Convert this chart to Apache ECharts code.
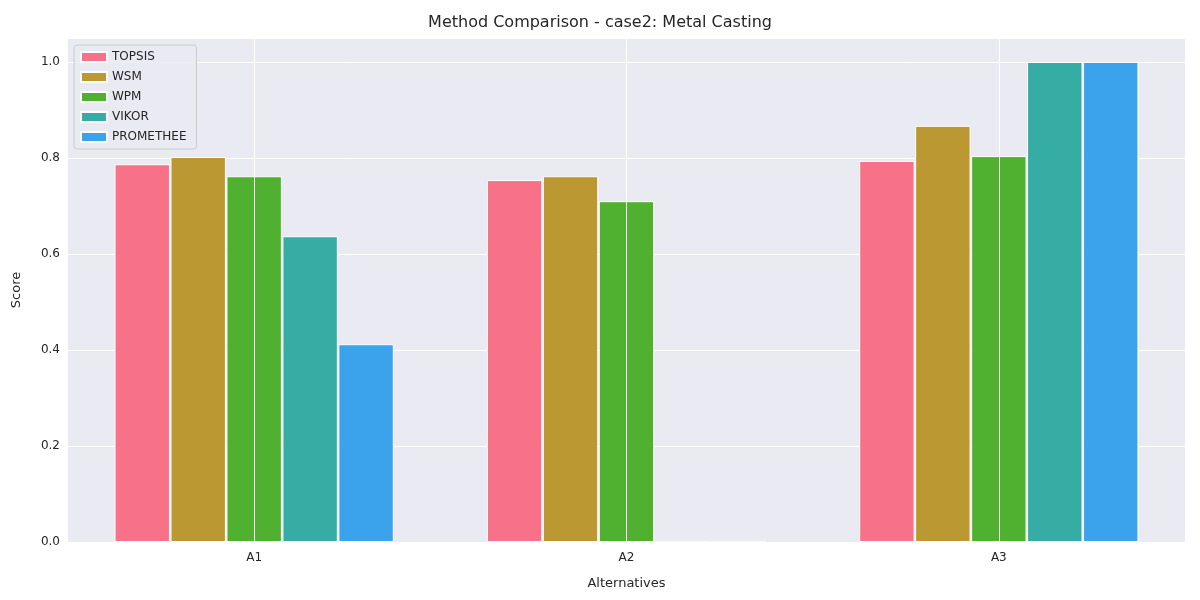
<!DOCTYPE html>
<html>
<head>
<meta charset="utf-8">
<script src="https://cdn.jsdelivr.net/npm/echarts@6/dist/echarts.min.js"></script>
<style>html,body{margin:0;padding:0;background:#fff}#chart{width:1200px;height:600px}</style>
</head>
<body>
<div id="chart"></div>
<script>
// data
var alternatives = ['A1', 'A2', 'A3'];
var methods = ['TOPSIS', 'WSM', 'WPM', 'VIKOR', 'PROMETHEE'];
var topsis = [0.787, 0.754, 0.794];
var wsm = [0.802, 0.762, 0.867];
var wpm = [0.762, 0.710, 0.804];
var vikor = [0.637, 0, 1.0];
var promethee = [0.412, 0, 1.0];
var colors = ['#f77189', '#bb9832', '#50b131', '#36ada4', '#3ba3ec'];

var chart = echarts.init(document.getElementById('chart'));
var values = [topsis, wsm, wpm, vikor, promethee];
var font = 'DejaVu Sans';

var series = methods.map(function (name, i) {
    return {
        name: name,
        type: 'bar',
        z: 3,
        data: values[i],
        barGap: '1%',
        barCategoryGap: '25%',
        itemStyle: {color: colors[i], borderColor: '#fff', borderWidth: 1}
    };
});
// vertical grid lines at category centres, behind the bars
series.push({
    type: 'line',
    z: 1,
    data: [],
    silent: true,
    markLine: {
        silent: true,
        symbol: 'none',
        label: {show: false},
        lineStyle: {color: '#fff', type: 'solid', width: 1},
        data: alternatives.map(function (a) { return {xAxis: a}; })
    }
});

chart.setOption({
    animation: false,
    textStyle: {fontFamily: font},
    title: {
        text: 'Method Comparison - case2: Metal Casting',
        left: 'center', top: 10,
        textStyle: {fontFamily: font, fontSize: 16, fontWeight: 'normal', color: '#262626'}
    },
    legend: {
        data: methods,
        orient: 'vertical',
        left: 74, top: 45,
        itemWidth: 26, itemHeight: 10, itemGap: 8,
        icon: 'rect',
        padding: [6, 10, 6, 6],
        backgroundColor: 'rgba(234,234,242,0.85)',
        borderColor: '#cccccc', borderWidth: 1, borderRadius: 3,
        textStyle: {fontFamily: font, fontSize: 12, color: '#262626'}
    },
    grid: {
        left: 68, right: 15, top: 38, bottom: 58,
        show: true, backgroundColor: '#eaeaf2', borderWidth: 0
    },
    xAxis: {
        type: 'category',
        data: alternatives,
        name: 'Alternatives', nameLocation: 'middle', nameGap: 35,
        nameTextStyle: {fontFamily: font, fontSize: 13, color: '#262626'},
        axisLine: {show: false}, axisTick: {show: false},
        splitLine: {show: false},
        axisLabel: {fontFamily: font, fontSize: 12, color: '#262626', margin: 10}
    },
    yAxis: {
        type: 'value',
        min: 0, max: 1.05, interval: 0.2,
        name: 'Score', nameLocation: 'middle', nameGap: 45,
        nameTextStyle: {fontFamily: font, fontSize: 13, color: '#262626'},
        axisLine: {show: false}, axisTick: {show: false},
        splitLine: {lineStyle: {color: '#fff', width: 1}},
        axisLabel: {
            fontFamily: font, fontSize: 12, color: '#262626', showMaxLabel: false,
            formatter: function (v) { return v.toFixed(1); }
        }
    },
    series: series
});
</script>
</body>
</html>
